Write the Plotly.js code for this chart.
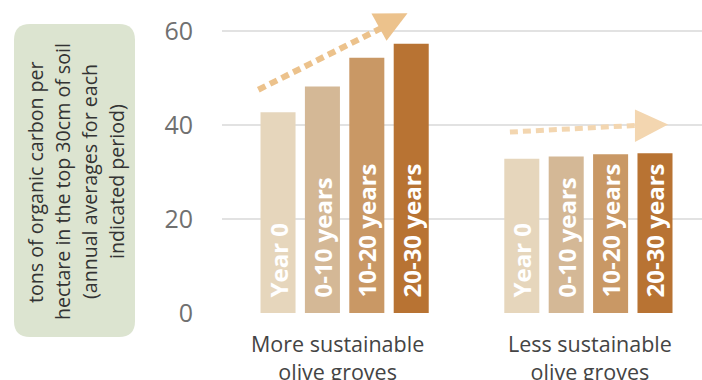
<!DOCTYPE html>
<html>
<head>
<meta charset="utf-8">
<script src="https://cdn.plot.ly/plotly-3.0.1.min.js"></script>
<style>html,body{margin:0;padding:0;background:#fff;}#chart{width:702px;height:380px;}</style>
</head>
<body>
<div id="chart"></div>
<script>
// ---- data ----
var categories = ["More sustainable<br>olive groves", "Less sustainable<br>olive groves"];
var periods = ["Year 0", "0-10 years", "10-20 years", "20-30 years"];
var yearZero = [42.7, 32.8];
var years0to10 = [48.2, 33.3];
var years10to20 = [54.3, 33.8];
var years20to30 = [57.3, 34.0];
var yTickVals = [0, 20, 40, 60];
var yTitleLines = ["tons of organic carbon per", "hectare in the top 30cm of soil", "(annual averages for each", "indicated period)"];

var seriesValues = [yearZero, years0to10, years10to20, years20to30];
var colors = ["#e6d6bc", "#d4b896", "#c99865", "#b87333"];
var labelShifts = [-7, 2];

var W = 702, H = 380;
var M = {l: 222, r: 0, t: 2, b: 67};
var PW = W - M.l - M.r, PH = H - M.t - M.b;
function px(x){ return (x - M.l) / PW; }
function py(y){ return (H - M.b - y) / PH; }

var traces = seriesValues.map(function(vals, i){
  return {
    type: "bar",
    name: periods[i],
    x: categories,
    y: vals,
    text: categories.map(function(){ return "\u00a0\u00a0" + periods[i]; }),
    textposition: "inside",
    insidetextanchor: "start",
    textangle: -90,
    constraintext: "none",
    textfont: {family: "Open Sans", size: 24, color: "#ffffff", weight: "bold"},
    marker: {color: colors[i], line: {width: 0}},
    hoverinfo: "skip"
  };
});

// rounded box behind the y title (pixel -> paper)
function roundedRect(x0, y0, x1, y1, r){
  var rx = r / PW, ry = r / PH;
  var X0 = px(x0), X1 = px(x1), Y0 = py(y1), Y1 = py(y0); // Y0 bottom, Y1 top
  return "M" + (X0+rx) + "," + Y1 +
    " L" + (X1-rx) + "," + Y1 +
    " Q" + X1 + "," + Y1 + " " + X1 + "," + (Y1-ry) +
    " L" + X1 + "," + (Y0+ry) +
    " Q" + X1 + "," + Y0 + " " + (X1-rx) + "," + Y0 +
    " L" + (X0+rx) + "," + Y0 +
    " Q" + X0 + "," + Y0 + " " + X0 + "," + (Y0+ry) +
    " L" + X0 + "," + (Y1-ry) +
    " Q" + X0 + "," + Y1 + " " + (X0+rx) + "," + Y1 + " Z";
}

var shapes = [
  {type: "path", xref: "paper", yref: "paper", path: roundedRect(14, 24, 135, 337, 16),
   fillcolor: "#dce4d0", line: {width: 0}, layer: "below"},
  // trend arrow, more sustainable
  {type: "line", xref: "x", yref: "y", x0: -0.354, y0: 47.5, x1: 0.150, y1: 60.6,
   line: {color: "#ecc28c", width: 6, dash: "8px,5px"}},
  {type: "path", xref: "x", yref: "y", path: "M0.110,63.7 L0.258,63.8 L0.172,57.9 Z",
   fillcolor: "#ecc28c", line: {width: 0}},
  // trend arrow, less sustainable
  {type: "line", xref: "x", yref: "y", x0: 0.678, y0: 38.5, x1: 1.191, y1: 39.9,
   line: {color: "#f3d6b0", width: 5, dash: "8px,5px"}},
  {type: "path", xref: "x", yref: "y", path: "M1.191,43.3 L1.327,40.1 L1.191,36.4 Z",
   fillcolor: "#f3d6b0", line: {width: 0}}
];

var annotations = yTitleLines.map(function(t, i){
  return {
    xref: "paper", yref: "paper",
    x: px(35 + i * 27), y: py(182),
    text: t, showarrow: false, textangle: -90,
    xanchor: "center", yanchor: "middle",
    font: {family: "Open Sans", size: 19.6, color: "#333333"}
  };
});
categories.forEach(function(c, i){
  annotations.push({
    xref: "x", yref: "paper",
    x: c, y: 0, xshift: labelShifts[i], yshift: -14,
    text: c, showarrow: false,
    xanchor: "center", yanchor: "top",
    font: {family: "Open Sans", size: 21.5, color: "#444444"}
  });
});

var layout = {
  width: W, height: H,
  margin: M,
  paper_bgcolor: "#ffffff", plot_bgcolor: "#ffffff",
  showlegend: false,
  barmode: "group",
  bargap: 0.2715,
  bargroupgap: 0.211,
  xaxis: {
    type: "category",
    range: [-0.503, 1.466],
    showgrid: false, zeroline: false, showline: false,
    ticks: "", showticklabels: false
  },
  yaxis: {
    range: [0, PH / 4.7],
    tickvals: yTickVals,
    showgrid: true, gridcolor: "#e2e2e2", gridwidth: 2,
    zeroline: false, showline: false,
    ticks: "", ticklabelstandoff: 28,
    tickfont: {family: "Open Sans", size: 25, color: "#707070"}
  },
  shapes: shapes,
  annotations: annotations
};

Plotly.newPlot("chart", traces, layout, {displayModeBar: false, staticPlot: true});
</script>
</body>
</html>
